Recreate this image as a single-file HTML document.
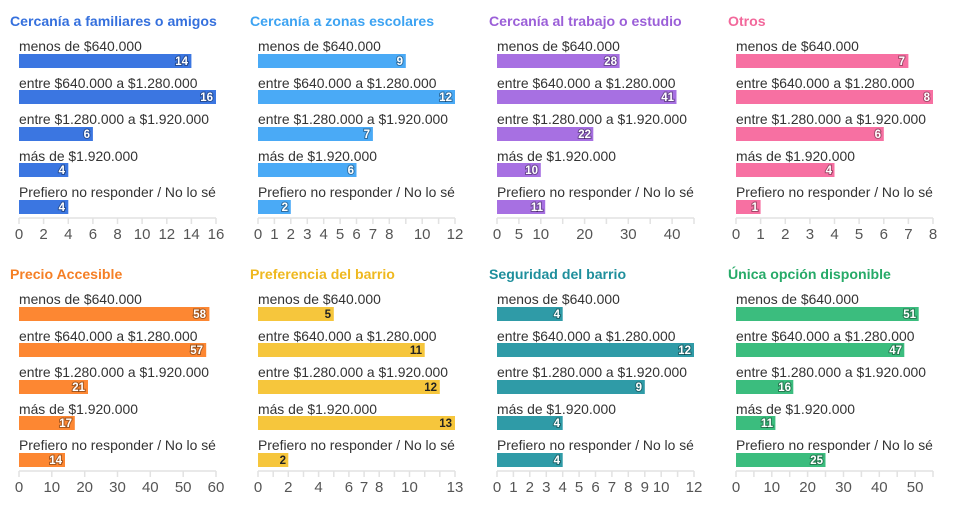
<!DOCTYPE html>
<html><head><meta charset="utf-8"><style>
body{margin:0;background:#fff}
svg{display:block;font-family:"Liberation Sans",sans-serif}
.t{font-size:14.1px;font-weight:bold}
.l{font-size:13.9px;fill:#333}
.v{font-size:11.5px;font-weight:bold;fill:#fff;text-anchor:end;paint-order:stroke;stroke:rgba(0,0,0,.35);stroke-width:2px}
.vy{font-size:11.5px;font-weight:bold;fill:#222;text-anchor:end}
.a{font-size:15px;fill:#555;text-anchor:middle}
.ax{stroke:#e2e2e2;stroke-width:1.5}
</style></head><body>
<svg width="956" height="505" viewBox="0 0 956 505">
<!-- Row 1 -->
<g>
<text x="10" y="26" class="t" fill="#3570dd">Cercanía a familiares o amigos</text>
<text x="19" y="51" class="l">menos de $640.000</text><rect x="19" y="54" width="172.4" height="14" fill="#3b76e1"/><text x="188" y="65" class="v">14</text>
<text x="19" y="88" class="l">entre $640.000 a $1.280.000</text><rect x="19" y="90" width="197" height="14" fill="#3b76e1"/><text x="213" y="101" class="v">16</text>
<text x="19" y="124" class="l">entre $1.280.000 a $1.920.000</text><rect x="19" y="127" width="73.9" height="14" fill="#3b76e1"/><text x="90" y="138" class="v">6</text>
<text x="19" y="161" class="l">más de $1.920.000</text><rect x="19" y="163" width="49.3" height="14" fill="#3b76e1"/><text x="65" y="174" class="v">4</text>
<text x="19" y="197" class="l">Prefiero no responder / No lo sé</text><rect x="19" y="200" width="49.3" height="14" fill="#3b76e1"/><text x="65" y="211" class="v">4</text>
<path class="ax" d="M19 218H216M19 218v6M43.6 218v6M68.3 218v6M92.9 218v6M117.5 218v6M142.1 218v6M166.8 218v6M191.4 218v6M216 218v6"/>
<text y="239" class="a"><tspan x="19">0</tspan><tspan x="43.6">2</tspan><tspan x="68.3">4</tspan><tspan x="92.9">6</tspan><tspan x="117.5">8</tspan><tspan x="142.1">10</tspan><tspan x="166.8">12</tspan><tspan x="191.4">14</tspan><tspan x="216">16</tspan></text>
</g>
<g>
<text x="250" y="26" class="t" fill="#3da3f2">Cercanía a zonas escolares</text>
<text x="258" y="51" class="l">menos de $640.000</text><rect x="258" y="54" width="147.8" height="14" fill="#4aaaf6"/><text x="403" y="65" class="v">9</text>
<text x="258" y="88" class="l">entre $640.000 a $1.280.000</text><rect x="258" y="90" width="197" height="14" fill="#4aaaf6"/><text x="452" y="101" class="v">12</text>
<text x="258" y="124" class="l">entre $1.280.000 a $1.920.000</text><rect x="258" y="127" width="114.9" height="14" fill="#4aaaf6"/><text x="370" y="138" class="v">7</text>
<text x="258" y="161" class="l">más de $1.920.000</text><rect x="258" y="163" width="98.5" height="14" fill="#4aaaf6"/><text x="354" y="174" class="v">6</text>
<text x="258" y="197" class="l">Prefiero no responder / No lo sé</text><rect x="258" y="200" width="32.8" height="14" fill="#4aaaf6"/><text x="288" y="211" class="v">2</text>
<path class="ax" d="M258 218H455M258 218v6M274.4 218v6M290.8 218v6M307.3 218v6M323.7 218v6M340.1 218v6M356.5 218v6M372.9 218v6M389.3 218v6M405.8 218v6M422.2 218v6M438.6 218v6M455 218v6"/>
<text y="239" class="a"><tspan x="258">0</tspan><tspan x="274.4">1</tspan><tspan x="290.8">2</tspan><tspan x="307.3">3</tspan><tspan x="323.7">4</tspan><tspan x="340.1">5</tspan><tspan x="356.5">6</tspan><tspan x="372.9">7</tspan><tspan x="389.3">8</tspan><tspan x="422.2">10</tspan><tspan x="455">12</tspan></text>
</g>
<g>
<text x="489" y="26" class="t" fill="#9b5fd8">Cercanía al trabajo o estudio</text>
<text x="497" y="51" class="l">menos de $640.000</text><rect x="497" y="54" width="122.6" height="14" fill="#a770e2"/><text x="617" y="65" class="v">28</text>
<text x="497" y="88" class="l">entre $640.000 a $1.280.000</text><rect x="497" y="90" width="179.5" height="14" fill="#a770e2"/><text x="674" y="101" class="v">41</text>
<text x="497" y="124" class="l">entre $1.280.000 a $1.920.000</text><rect x="497" y="127" width="96.3" height="14" fill="#a770e2"/><text x="591" y="138" class="v">22</text>
<text x="497" y="161" class="l">más de $1.920.000</text><rect x="497" y="163" width="43.8" height="14" fill="#a770e2"/><text x="538" y="174" class="v">10</text>
<text x="497" y="197" class="l">Prefiero no responder / No lo sé</text><rect x="497" y="200" width="48.2" height="14" fill="#a770e2"/><text x="543" y="211" class="v">11</text>
<path class="ax" d="M497 218H694M497 218v6M518.9 218v6M540.8 218v6M562.7 218v6M584.6 218v6M606.4 218v6M628.3 218v6M650.2 218v6M672.1 218v6M694 218v6"/>
<text y="239" class="a"><tspan x="497">0</tspan><tspan x="518.9">5</tspan><tspan x="540.8">10</tspan><tspan x="584.6">20</tspan><tspan x="628.3">30</tspan><tspan x="672.1">40</tspan></text>
</g>
<g>
<text x="728" y="26" class="t" fill="#f2689b">Otros</text>
<text x="736" y="51" class="l">menos de $640.000</text><rect x="736" y="54" width="172.4" height="14" fill="#f770a2"/><text x="905" y="65" class="v">7</text>
<text x="736" y="88" class="l">entre $640.000 a $1.280.000</text><rect x="736" y="90" width="197" height="14" fill="#f770a2"/><text x="930" y="101" class="v">8</text>
<text x="736" y="124" class="l">entre $1.280.000 a $1.920.000</text><rect x="736" y="127" width="147.8" height="14" fill="#f770a2"/><text x="881" y="138" class="v">6</text>
<text x="736" y="161" class="l">más de $1.920.000</text><rect x="736" y="163" width="98.5" height="14" fill="#f770a2"/><text x="832" y="174" class="v">4</text>
<text x="736" y="197" class="l">Prefiero no responder / No lo sé</text><rect x="736" y="200" width="24.6" height="14" fill="#f770a2"/><text x="758" y="211" class="v">1</text>
<path class="ax" d="M736 218H933M736 218v6M760.6 218v6M785.3 218v6M809.9 218v6M834.5 218v6M859.1 218v6M883.8 218v6M908.4 218v6M933 218v6"/>
<text y="239" class="a"><tspan x="736">0</tspan><tspan x="760.6">1</tspan><tspan x="785.3">2</tspan><tspan x="809.9">3</tspan><tspan x="834.5">4</tspan><tspan x="859.1">5</tspan><tspan x="883.8">6</tspan><tspan x="908.4">7</tspan><tspan x="933">8</tspan></text>
</g>
<!-- Row 2 -->
<g transform="translate(0,253)">
<text x="10" y="26" class="t" fill="#f57f25">Precio Accesible</text>
<text x="19" y="51" class="l">menos de $640.000</text><rect x="19" y="54" width="190.4" height="14" fill="#fd8732"/><text x="206" y="65" class="v">58</text>
<text x="19" y="88" class="l">entre $640.000 a $1.280.000</text><rect x="19" y="90" width="187.2" height="14" fill="#fd8732"/><text x="203" y="101" class="v">57</text>
<text x="19" y="124" class="l">entre $1.280.000 a $1.920.000</text><rect x="19" y="127" width="69" height="14" fill="#fd8732"/><text x="85" y="138" class="v">21</text>
<text x="19" y="161" class="l">más de $1.920.000</text><rect x="19" y="163" width="55.8" height="14" fill="#fd8732"/><text x="72" y="174" class="v">17</text>
<text x="19" y="197" class="l">Prefiero no responder / No lo sé</text><rect x="19" y="200" width="46" height="14" fill="#fd8732"/><text x="62" y="211" class="v">14</text>
<path class="ax" d="M19 218H216M19 218v6M51.8 218v6M84.7 218v6M117.5 218v6M150.3 218v6M183.2 218v6M216 218v6"/>
<text y="239" class="a"><tspan x="19">0</tspan><tspan x="51.8">10</tspan><tspan x="84.7">20</tspan><tspan x="117.5">30</tspan><tspan x="150.3">40</tspan><tspan x="183.2">50</tspan><tspan x="216">60</tspan></text>
</g>
<g transform="translate(0,253)">
<text x="250" y="26" class="t" fill="#efb81f">Preferencia del barrio</text>
<text x="258" y="51" class="l">menos de $640.000</text><rect x="258" y="54" width="75.8" height="14" fill="#f6c63c"/><text x="331" y="65" class="vy">5</text>
<text x="258" y="88" class="l">entre $640.000 a $1.280.000</text><rect x="258" y="90" width="166.7" height="14" fill="#f6c63c"/><text x="422" y="101" class="vy">11</text>
<text x="258" y="124" class="l">entre $1.280.000 a $1.920.000</text><rect x="258" y="127" width="181.8" height="14" fill="#f6c63c"/><text x="437" y="138" class="vy">12</text>
<text x="258" y="161" class="l">más de $1.920.000</text><rect x="258" y="163" width="197" height="14" fill="#f6c63c"/><text x="452" y="174" class="vy">13</text>
<text x="258" y="197" class="l">Prefiero no responder / No lo sé</text><rect x="258" y="200" width="30.3" height="14" fill="#f6c63c"/><text x="286" y="211" class="vy">2</text>
<path class="ax" d="M258 218H455M258 218v6M273.2 218v6M288.3 218v6M303.5 218v6M318.6 218v6M333.8 218v6M348.9 218v6M364.1 218v6M379.2 218v6M394.4 218v6M409.5 218v6M424.7 218v6M439.8 218v6M455 218v6"/>
<text y="239" class="a"><tspan x="258">0</tspan><tspan x="288.3">2</tspan><tspan x="318.6">4</tspan><tspan x="348.9">6</tspan><tspan x="364.1">7</tspan><tspan x="379.2">8</tspan><tspan x="409.5">10</tspan><tspan x="455">13</tspan></text>
</g>
<g transform="translate(0,253)">
<text x="489" y="26" class="t" fill="#1f8f9c">Seguridad del barrio</text>
<text x="497" y="51" class="l">menos de $640.000</text><rect x="497" y="54" width="65.7" height="14" fill="#2f9ba7"/><text x="560" y="65" class="v">4</text>
<text x="497" y="88" class="l">entre $640.000 a $1.280.000</text><rect x="497" y="90" width="197" height="14" fill="#2f9ba7"/><text x="691" y="101" class="v">12</text>
<text x="497" y="124" class="l">entre $1.280.000 a $1.920.000</text><rect x="497" y="127" width="147.8" height="14" fill="#2f9ba7"/><text x="642" y="138" class="v">9</text>
<text x="497" y="161" class="l">más de $1.920.000</text><rect x="497" y="163" width="65.7" height="14" fill="#2f9ba7"/><text x="560" y="174" class="v">4</text>
<text x="497" y="197" class="l">Prefiero no responder / No lo sé</text><rect x="497" y="200" width="65.7" height="14" fill="#2f9ba7"/><text x="560" y="211" class="v">4</text>
<path class="ax" d="M497 218H694M497 218v6M513.4 218v6M529.8 218v6M546.3 218v6M562.7 218v6M579.1 218v6M595.5 218v6M611.9 218v6M628.3 218v6M644.8 218v6M661.2 218v6M677.6 218v6M694 218v6"/>
<text y="239" class="a"><tspan x="497">0</tspan><tspan x="513.4">1</tspan><tspan x="529.8">2</tspan><tspan x="546.3">3</tspan><tspan x="562.7">4</tspan><tspan x="579.1">5</tspan><tspan x="595.5">6</tspan><tspan x="611.9">7</tspan><tspan x="628.3">8</tspan><tspan x="644.8">9</tspan><tspan x="661.2">10</tspan><tspan x="694">12</tspan></text>
</g>
<g transform="translate(0,253)">
<text x="728" y="26" class="t" fill="#26aa68">Única opción disponible</text>
<text x="736" y="51" class="l">menos de $640.000</text><rect x="736" y="54" width="182.7" height="14" fill="#3bbd7e"/><text x="916" y="65" class="v">51</text>
<text x="736" y="88" class="l">entre $640.000 a $1.280.000</text><rect x="736" y="90" width="168.3" height="14" fill="#3bbd7e"/><text x="902" y="101" class="v">47</text>
<text x="736" y="124" class="l">entre $1.280.000 a $1.920.000</text><rect x="736" y="127" width="57.3" height="14" fill="#3bbd7e"/><text x="791" y="138" class="v">16</text>
<text x="736" y="161" class="l">más de $1.920.000</text><rect x="736" y="163" width="39.4" height="14" fill="#3bbd7e"/><text x="773" y="174" class="v">11</text>
<text x="736" y="197" class="l">Prefiero no responder / No lo sé</text><rect x="736" y="200" width="89.5" height="14" fill="#3bbd7e"/><text x="823" y="211" class="v">25</text>
<path class="ax" d="M736 218H933M736 218v6M753.9 218v6M771.8 218v6M789.7 218v6M807.6 218v6M825.5 218v6M843.5 218v6M861.4 218v6M879.3 218v6M897.2 218v6M915.1 218v6M933 218v6"/>
<text y="239" class="a"><tspan x="736">0</tspan><tspan x="771.8">10</tspan><tspan x="807.6">20</tspan><tspan x="843.5">30</tspan><tspan x="879.3">40</tspan><tspan x="915.1">50</tspan></text>
</g>
</svg>
</body></html>
